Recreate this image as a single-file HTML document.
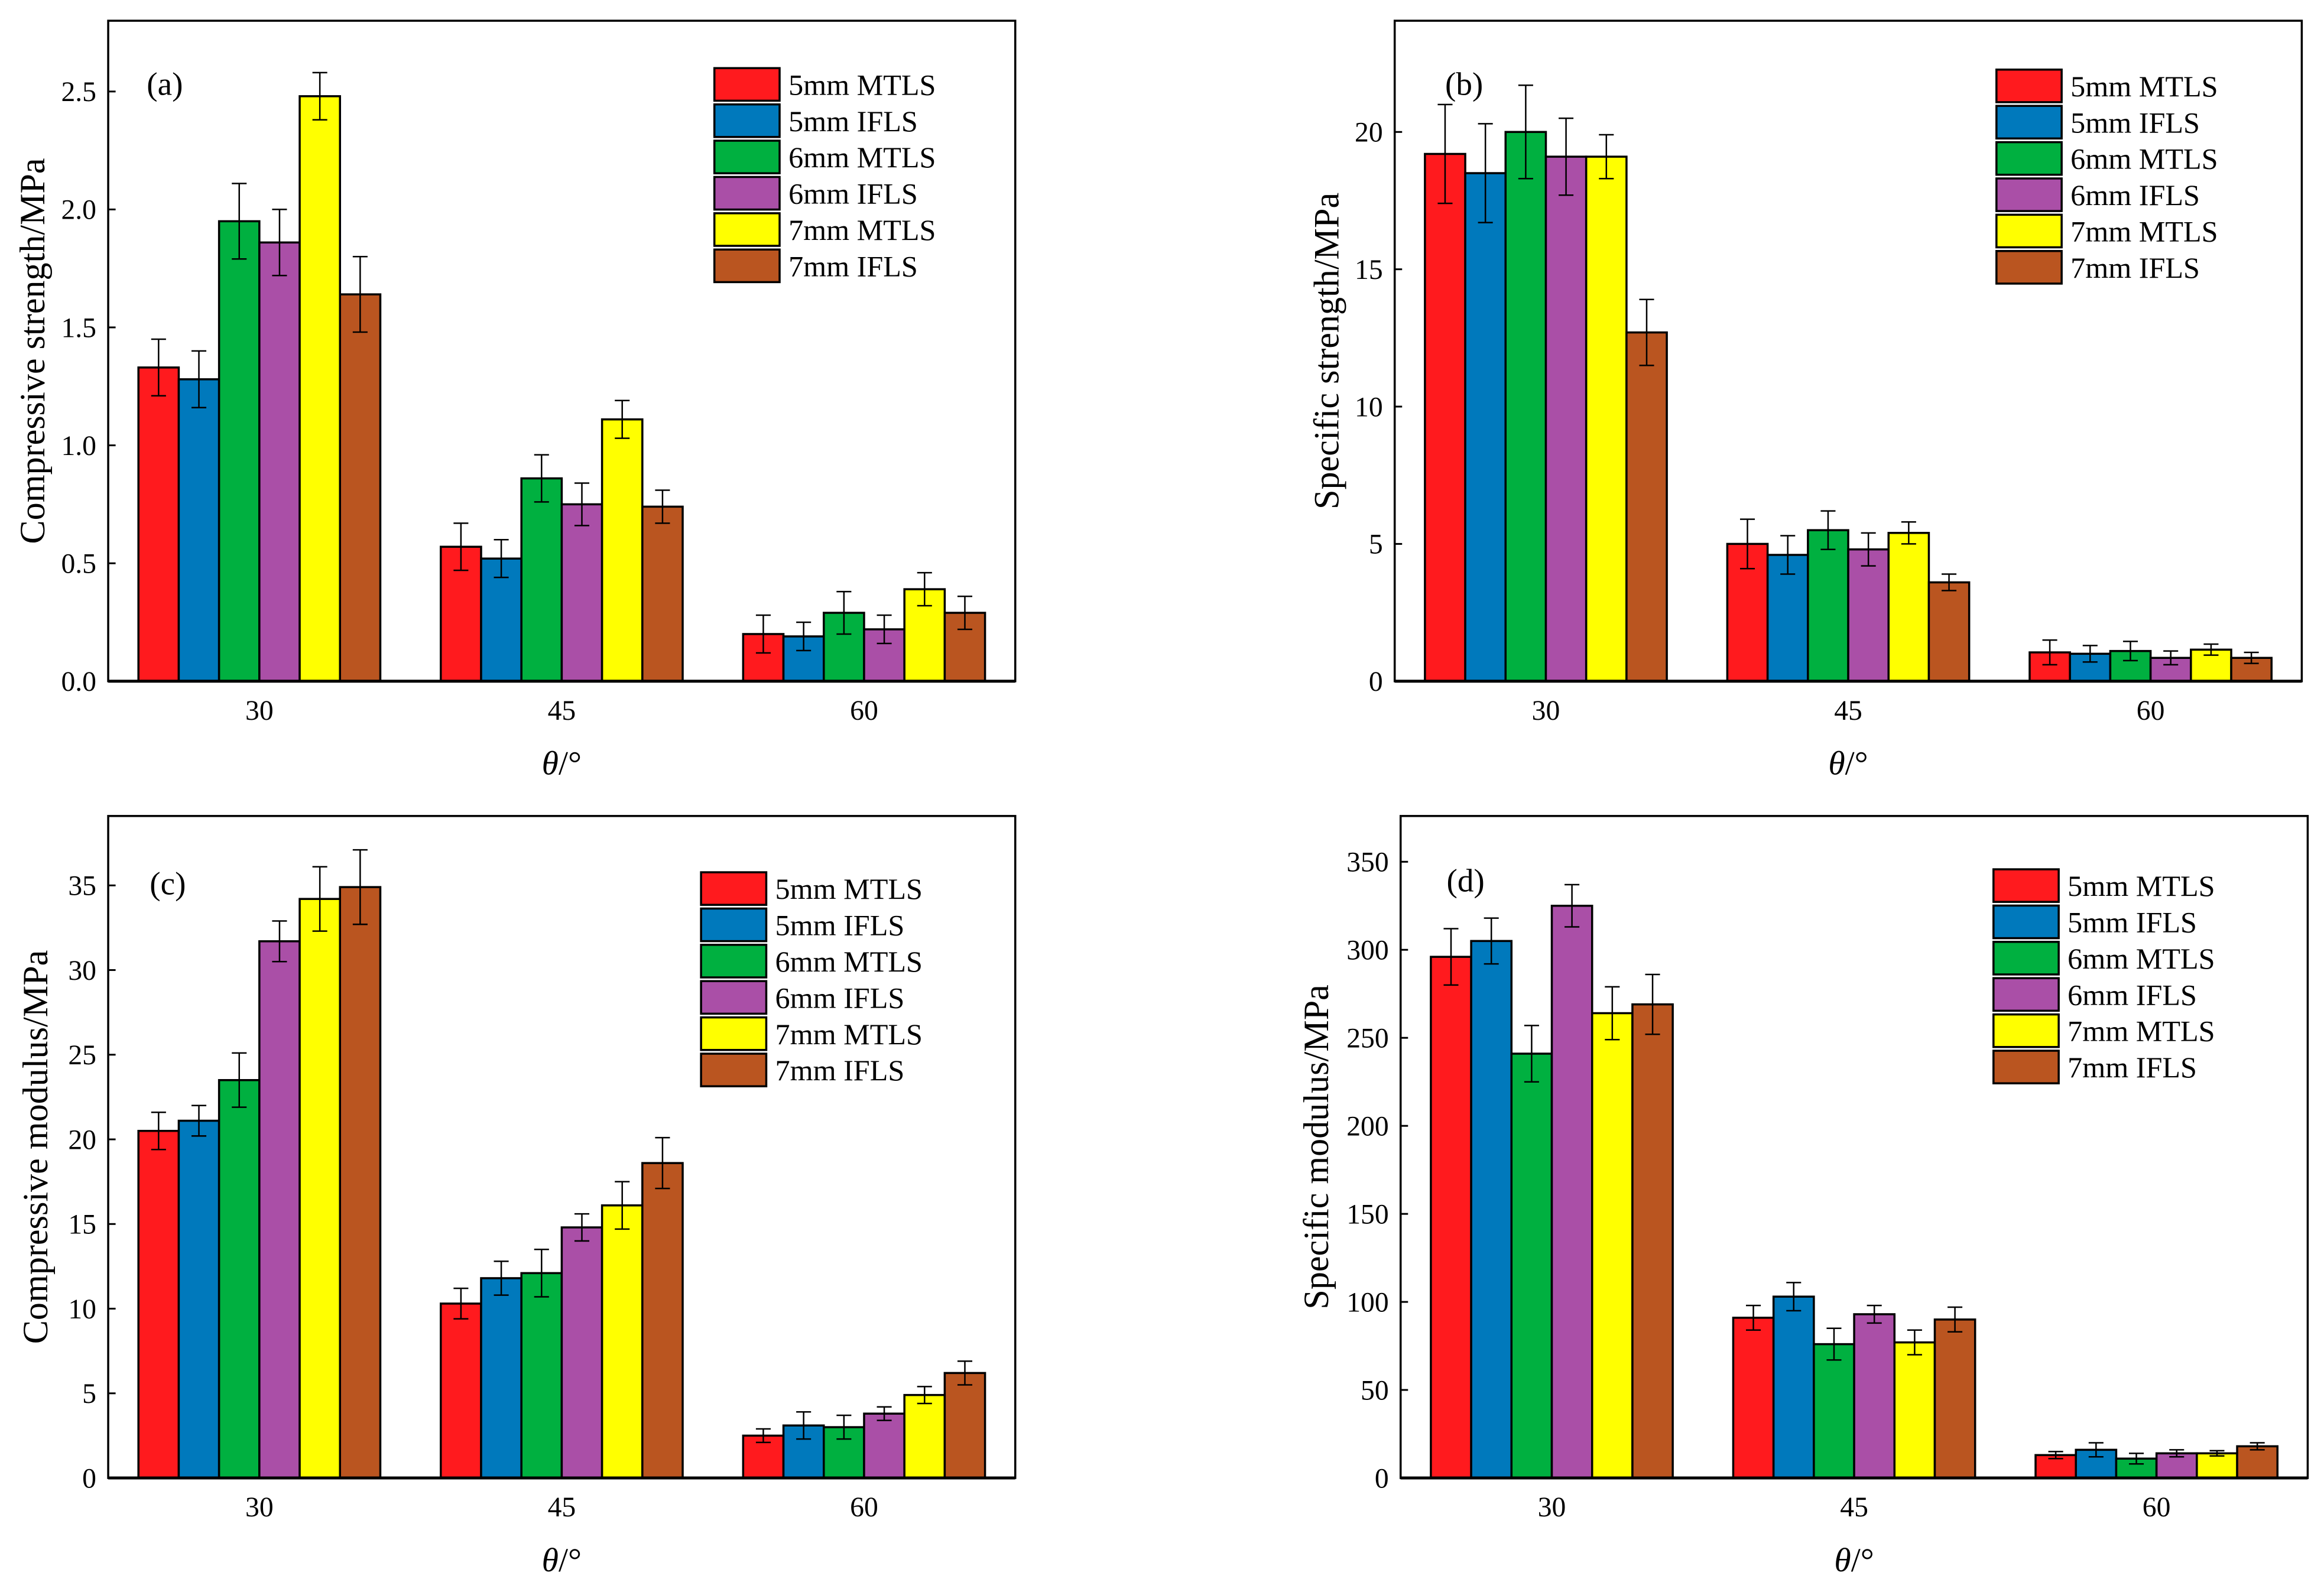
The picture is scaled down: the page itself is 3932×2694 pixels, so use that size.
<!DOCTYPE html>
<html><head><meta charset="utf-8"><style>
html,body{margin:0;padding:0;background:#fff;}
svg{display:block;}
text{font-family:"Liberation Serif",serif;fill:#000;}
</style></head><body>
<svg id="fig" width="3932" height="2694" viewBox="0 0 1568 1075" preserveAspectRatio="none" xmlns="http://www.w3.org/2000/svg"></svg>
<script>
const categories = ["30","45","60"];
const seriesNames = ["5mm MTLS","5mm IFLS","6mm MTLS","6mm IFLS","7mm MTLS","7mm IFLS"];
const colors = ["#FF1A1E","#0079BC","#00B040","#AA4FA7","#FFFF00","#BA5520"];

const aValues = [[1.33,0.57,0.20],[1.28,0.52,0.19],[1.95,0.86,0.29],[1.86,0.75,0.22],[2.48,1.11,0.39],[1.64,0.74,0.29]];
const aErrors = [[0.12,0.10,0.08],[0.12,0.08,0.06],[0.16,0.10,0.09],[0.14,0.09,0.06],[0.10,0.08,0.07],[0.16,0.07,0.07]];
const aTicks = ["0.0","0.5","1.0","1.5","2.0","2.5"];

const bValues = [[19.2,5.0,1.05],[18.5,4.6,1.0],[20.0,5.5,1.1],[19.1,4.8,0.85],[19.1,5.4,1.15],[12.7,3.6,0.85]];
const bErrors = [[1.8,0.9,0.45],[1.8,0.7,0.3],[1.7,0.7,0.35],[1.4,0.6,0.25],[0.8,0.4,0.2],[1.2,0.3,0.2]];
const bTicks = ["0","5","10","15","20"];

const cValues = [[20.5,10.3,2.5],[21.1,11.8,3.1],[23.5,12.1,3.0],[31.7,14.8,3.8],[34.2,16.1,4.9],[34.9,18.6,6.2]];
const cErrors = [[1.1,0.9,0.4],[0.9,1.0,0.8],[1.6,1.4,0.7],[1.2,0.8,0.4],[1.9,1.4,0.5],[2.2,1.5,0.7]];
const cTicks = ["0","5","10","15","20","25","30","35"];

const dValues = [[296,91,13],[305,103,16],[241,76,11],[325,93,14],[264,77,14],[269,90,18]];
const dErrors = [[16,7,2],[13,8,4],[16,9,3],[12,5,2],[15,7,1.5],[17,7,2]];
const dTicks = ["0","50","100","150","200","250","300","350"];

const NS = "http://www.w3.org/2000/svg";
const svg = document.getElementById("fig");
function mk(tag, attrs, parent){
  const e = document.createElementNS(NS, tag);
  for (const k in attrs) e.setAttribute(k, attrs[k]);
  (parent||svg).appendChild(e);
  return e;
}

function panel(cfg){
  const g = mk("g", {});
  
  
  const {x0,x1,y0,y1,ymax} = cfg;
  const yS = v => y1 - v/ymax*(y1-y0);
  const groupW = (x1-x0)/categories.length;
  const xC = i => x0 + groupW*(i+0.5);
  const bw = groupW*0.8/seriesNames.length;
  for (let s=0;s<seriesNames.length;s++){
    for (let i=0;i<categories.length;i++){
      const v = cfg.values[s][i], e = cfg.errors[s][i];
      const bx = xC(i) - groupW*0.4 + s*bw;
      const r = mk("rect",{x:bx,y:yS(v),width:bw,height:y1-yS(v),fill:colors[s],stroke:"#000","stroke-width":1.4},g);
      
      
      const cx = bx+bw/2;
      const eb = mk("path",{d:`M${cx},${yS(v+e)}V${yS(v-e)}M${cx-5},${yS(v+e)}H${cx+5}M${cx-5},${yS(v-e)}H${cx+5}`,stroke:"#000","stroke-width":1,fill:"none"},g);
      
      
    }
  }
  const fr = mk("rect",{x:x0,y:y0,width:x1-x0,height:y1-y0,fill:"none",stroke:"#000","stroke-width":1.4},g);
  
  
  const xa = mk("line",{x1:x0,x2:x1,y1:y1,y2:y1,stroke:"#000","stroke-width":2},g);
  
  
  cfg.ticks.forEach(t=>{
    const y = yS(parseFloat(t));
    mk("line",{x1:x0,x2:x0+5,y1:y,y2:y,stroke:"#000","stroke-width":1.2},g);
    const tx = mk("text",{x:x0-8,y:y+6.5,"text-anchor":"end","font-size":19},g);
    tx.textContent = t;
    
    
  });
  categories.forEach((c,i)=>{
    const tx = mk("text",{x:xC(i),y:y1+26,"text-anchor":"middle","font-size":19},g);
    tx.textContent = c;
    
    
  });
  const xt = mk("text",{x:(x0+x1)/2,y:y1+63,"text-anchor":"middle","font-size":23},g);
  xt.innerHTML = '<tspan font-style="italic">θ</tspan>/°';
  
  
  const yt = mk("text",{x:0,y:0,"text-anchor":"middle","font-size":24,transform:`translate(${cfg.ytx},${(y0+y1)/2}) rotate(-90)`},g);
  yt.textContent = cfg.ytitle;
  
  
  const pl = mk("text",{x:cfg.plx,y:cfg.ply,"font-size":22},g);
  pl.textContent = cfg.label;
  
  
  for (let s=0;s<seriesNames.length;s++){
    const ly = cfg.ly + s*24.5;
    const sw = mk("rect",{x:cfg.lx,y:ly,width:44,height:22,fill:colors[s],stroke:"#000","stroke-width":1.4},g);
    
    
    const lt = mk("text",{x:cfg.lx+50,y:ly+18,"font-size":20},g);
    lt.textContent = seriesNames[s];
    
    
  }
}

panel({name:"panel-a",x0:73,x1:685,y0:14,y1:460,ymax:2.8,values:aValues,errors:aErrors,ticks:aTicks,ytitle:"Compressive strength/MPa",ytx:30,label:"(a)",plx:99,ply:64,lx:482,ly:46});
panel({name:"panel-b",x0:941,x1:1553,y0:14,y1:460,ymax:24.05,values:bValues,errors:bErrors,ticks:bTicks,ytitle:"Specific strength/MPa",ytx:903,label:"(b)",plx:975,ply:64,lx:1347,ly:47});
panel({name:"panel-c",x0:73,x1:685,y0:551,y1:998,ymax:39.1,values:cValues,errors:cErrors,ticks:cTicks,ytitle:"Compressive modulus/MPa",ytx:32,label:"(c)",plx:101,ply:604,lx:473,ly:589});
panel({name:"panel-d",x0:945,x1:1557,y0:551,y1:998,ymax:376,values:dValues,errors:dErrors,ticks:dTicks,ytitle:"Specific modulus/MPa",ytx:896,label:"(d)",plx:976,ply:602,lx:1345,ly:587});
</script>
</body></html>
